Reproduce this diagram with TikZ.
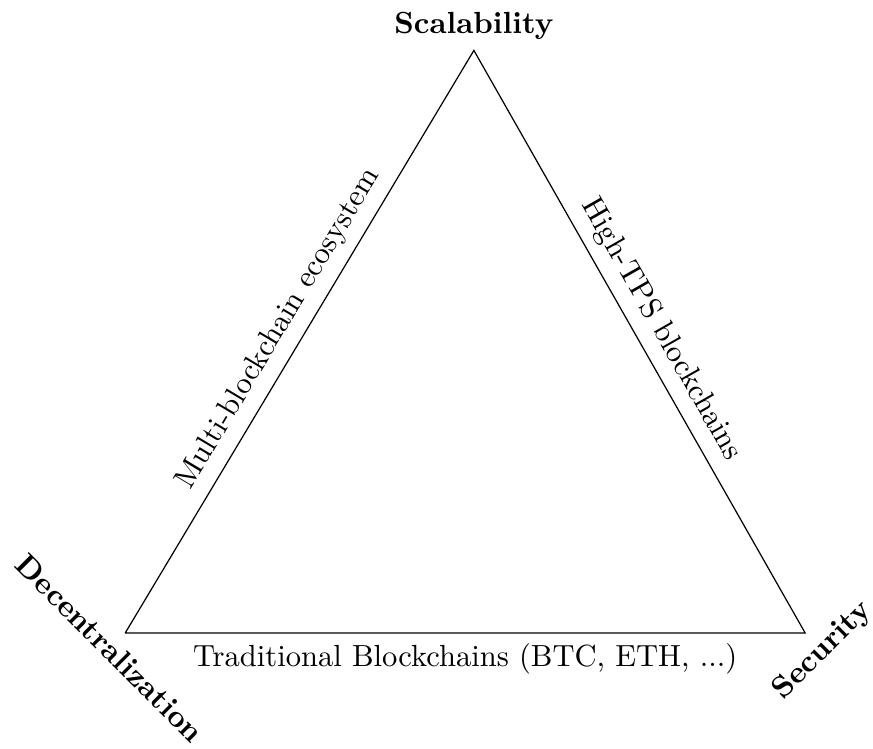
\documentclass[tikz,border=0pt]{standalone}
\begin{document}
\begin{tikzpicture}
	\useasboundingbox (-1.44,-1.33) rectangle (8.60,7.28);

	\coordinate (dec) at (0,0);
	\coordinate (sec) at (7.82,0);
	\coordinate (sca) at (4.01,6.70);

	\node[anchor=south] (scalabel) at (sca) {\textbf{Scalability}};
	\node[rotate=-45, anchor=north] (declabel) at (dec) {\textbf{Decentralization}};
	\node[rotate=45, anchor=north] (seclabel) at (sec) {\textbf{Security}};

	\draw (dec) -- node[above, sloped] (multi) {Multi-blockchain ecosystem} (sca)
		-- node[above, sloped] (tps) {High-TPS blockchains} (sec)
		-- node[below] (trad) {Traditional Blockchains (BTC, ETH, ...)} (dec);
\end{tikzpicture}
\end{document}
